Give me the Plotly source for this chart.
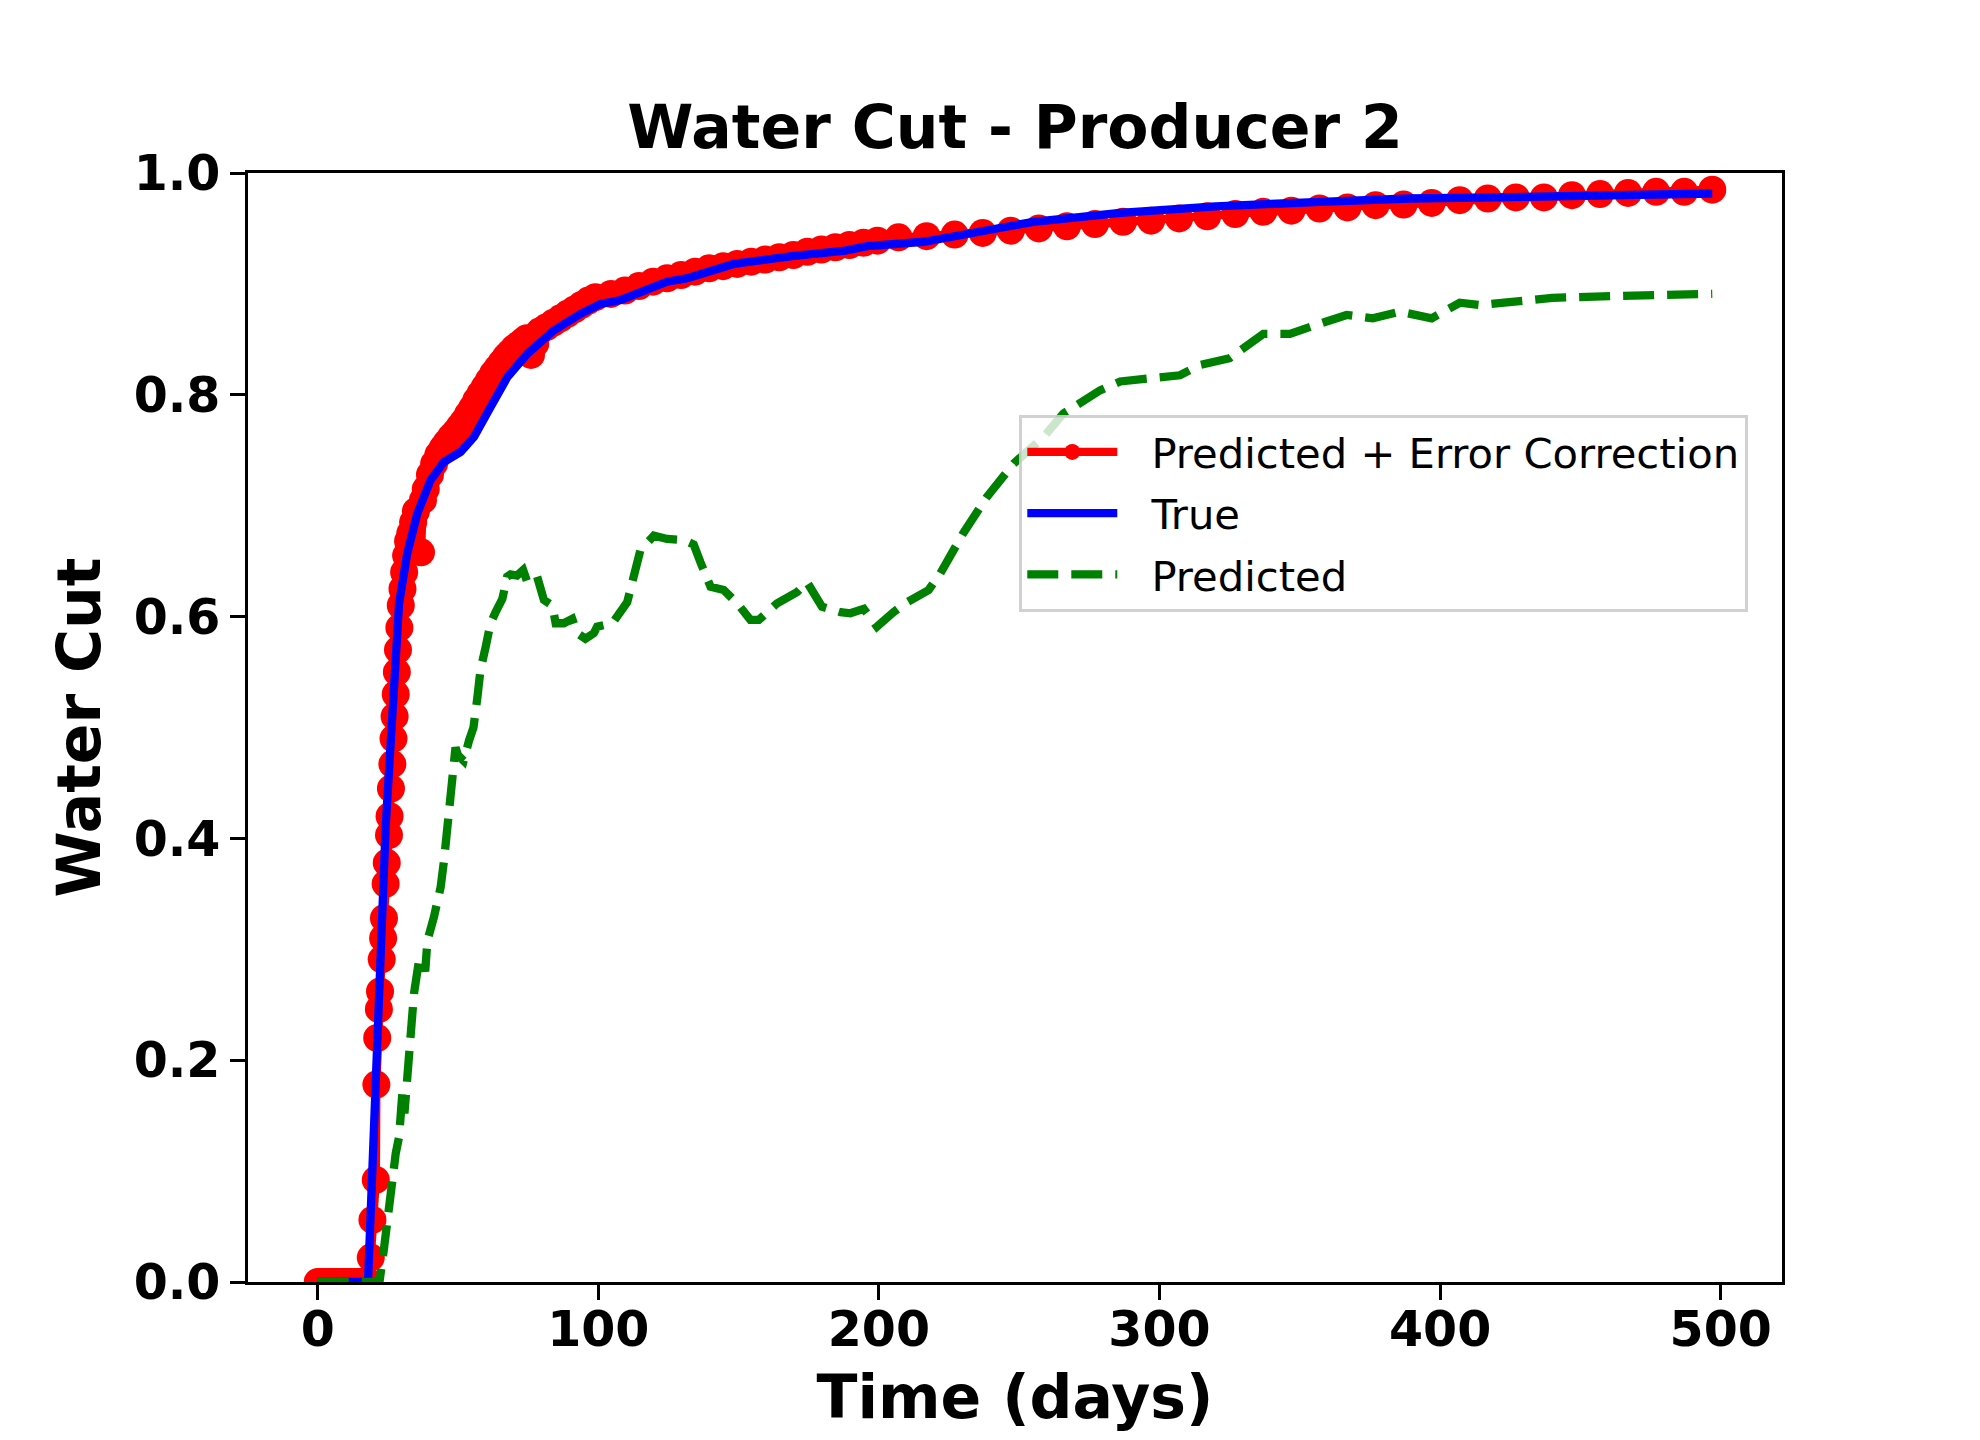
import plotly.graph_objects as go

# ---------------- data ----------------
t_corr = [0, 1, 2, 3, 4, 5, 6, 7, 8, 9, 10, 11, 12, 13, 14, 15, 16, 17, 18,
          18.9, 19.5, 20.7, 20.9, 21.2, 21.8, 22.2, 22.8, 23.3, 23.6, 24.2, 24.6, 25.4, 25.6, 26.1, 26.6,
          27.0, 27.4, 27.8, 28.2, 28.6, 29.1, 29.6, 30.2, 30.8, 31.5, 32.2, 33.0, 34.0, 35.0, 36.8, 37.5, 38.5,
          40, 41.5, 43, 44.5, 46, 47.5, 49, 50.5, 52, 53.5, 55, 56.5, 58, 59.5, 61, 62.5, 64, 65.5, 67, 68.5,
          70, 71.5, 73, 74.5, 76, 77.5, 79,
          81.5, 84, 86.5, 89, 91.5, 94, 96.5, 99,
          104.5, 109.5, 114.5, 119.5, 124.5, 129.5, 134.5, 139.5, 144.5, 149.5, 154.5, 159.5, 164.5, 169.5,
          174.5, 179.5, 184.5, 189.5, 194.5, 199.5,
          207, 217, 227, 237, 247, 257, 267, 277, 287, 297, 307, 317, 327, 337, 347, 357, 367, 377, 387, 397,
          407, 417, 427, 437, 447, 457, 467, 477, 487, 497]
wc_corr = [0, 0, 0, 0, 0, 0, 0, 0, 0, 0, 0, 0, 0, 0, 0, 0, 0, 0, 0,
           0.022, 0.056, 0.092, 0.178, 0.220, 0.246, 0.262, 0.291, 0.310, 0.328, 0.359, 0.378, 0.403, 0.420, 0.445, 0.467,
           0.49, 0.51, 0.53, 0.55, 0.57, 0.59, 0.61, 0.625, 0.64, 0.655, 0.668, 0.675, 0.685, 0.695, 0.658, 0.705, 0.715,
           0.728, 0.738, 0.746, 0.752, 0.757, 0.762, 0.766, 0.771, 0.776, 0.782, 0.788, 0.795, 0.801, 0.807, 0.813, 0.819, 0.824, 0.829, 0.834, 0.838,
           0.842, 0.845, 0.848, 0.851, 0.836, 0.846, 0.857,
           0.861, 0.865, 0.869, 0.873, 0.877, 0.881, 0.885, 0.888,
           0.891, 0.894, 0.898, 0.902, 0.905, 0.908, 0.911, 0.914, 0.916, 0.918, 0.920, 0.922, 0.924, 0.926,
           0.929, 0.931, 0.933, 0.935, 0.937, 0.939,
           0.942, 0.943, 0.9445, 0.946, 0.948, 0.950, 0.952, 0.954, 0.956, 0.957, 0.959, 0.961, 0.963, 0.965, 0.966, 0.968, 0.969, 0.971, 0.9715, 0.973,
           0.9755, 0.977, 0.978, 0.978, 0.980, 0.981, 0.982, 0.983, 0.983, 0.985]

t_true = [0, 17.9, 18.3, 19.2, 20.3, 22.2, 24.2, 25.4, 27.2, 29.0, 31.9, 35.5, 40.2, 45.0, 50.9, 55.7, 61.6,
          67.6, 74.7, 84.1, 93.7, 100.8, 108.0, 115.0, 124.5, 131.4, 148.3, 169.0, 188.0, 195.8, 216.0,
          231.4, 255.0, 286.0, 320.0, 357.5, 389.0, 420.0, 450.0, 497.0]
wc_true = [0, 0, 0.025, 0.092, 0.17, 0.29, 0.41, 0.461, 0.552, 0.612, 0.657, 0.693, 0.723, 0.7395, 0.7485, 0.762, 0.789,
           0.816, 0.837, 0.858, 0.873, 0.882, 0.8855, 0.8925, 0.902, 0.905, 0.918, 0.925, 0.930, 0.934, 0.938,
           0.945, 0.956, 0.964, 0.970, 0.974, 0.977, 0.978, 0.979, 0.9815]

t_pred = [0, 22.0, 23.6, 24.8, 26.0, 27.8, 29.0, 30.2, 30.9, 31.8, 33.1, 34.3, 36.1, 37.5, 38.3, 39.1, 41.4, 42.6,
          43.8, 45.0, 46.2, 48.0, 49.1, 50.0, 52.0, 53.9, 55.5, 56.9, 58.0, 59.8, 61.6, 63.4, 65.8, 67.5, 68.7,
          71.0, 73.2, 74.7, 78.2, 80.6, 83.6, 84.8, 87.7, 90.7, 92.5, 95.4, 98.4, 99.6, 105.0, 110.3, 112.7,
          115.0, 119.8, 124.5, 130.5, 134.0, 136.4, 138.8, 140.0, 144.7, 149.5, 154.2, 157.2, 163.7, 170.8,
          174.4, 179.7, 186.3, 189.8, 194.6, 199.3, 205.2, 209.4, 217.7, 221.9, 230.0, 238.5, 248.0, 258.7,
          265.7, 270.5, 278.8, 286.0, 296.6, 307.3, 314.5, 325.0, 337.0, 346.5, 357.0, 366.7, 376.0, 385.7,
          397.0, 407.0, 414.0, 429.6, 440.0, 461.6, 497.0]
wc_pred = [0, 0.0, 0.03, 0.056, 0.08, 0.116, 0.131, 0.172, 0.152, 0.18, 0.215, 0.26, 0.29, 0.292, 0.28, 0.308, 0.329, 0.341,
           0.356, 0.38, 0.41, 0.452, 0.482, 0.475, 0.47, 0.488, 0.50, 0.527, 0.552, 0.572, 0.594, 0.604, 0.616, 0.636, 0.638,
           0.637, 0.642, 0.631, 0.636, 0.615, 0.61, 0.594, 0.594, 0.598, 0.585, 0.58, 0.585, 0.591, 0.594, 0.613, 0.636,
           0.66, 0.673, 0.670, 0.669, 0.665, 0.649, 0.633, 0.627, 0.624, 0.612, 0.597, 0.597, 0.612, 0.622,
           0.631, 0.609, 0.604, 0.603, 0.607, 0.591, 0.604, 0.612, 0.624, 0.639, 0.675, 0.708, 0.738, 0.762,
           0.783, 0.790, 0.804, 0.812, 0.814, 0.8176, 0.827, 0.833, 0.855, 0.855, 0.864, 0.872, 0.869, 0.875,
           0.869, 0.883, 0.881, 0.885, 0.8874, 0.889, 0.891]

x_ticks = [0, 100, 200, 300, 400, 500]
y_ticks = [0.0, 0.2, 0.4, 0.6, 0.8, 1.0]
x_range = [-24.85, 521.85]
y_range = [0.0, 1.0]

# ---------------- figure ----------------
# the page body has an 8px margin, so the figure is sized/offset to compensate
W, H = 1972, 1432
LW = 8.3
PAD = "\u2002\u2009"   # small gap between legend handle and label
fig = go.Figure()
fig.add_trace(go.Scatter(x=t_corr, y=wc_corr, mode="lines+markers",
                         name=PAD + "Predicted + Error Correction", legendgroup="a",
                         line=dict(color="#ff0000", width=LW),
                         marker=dict(size=28, color="#ff0000")))
fig.add_trace(go.Scatter(x=t_true, y=wc_true, mode="lines", name=PAD + "True", legendgroup="b",
                         line=dict(color="#0000ff", width=LW)))
fig.add_trace(go.Scatter(x=t_pred, y=wc_pred, mode="lines", name=PAD + "Predicted", legendgroup="c",
                         line=dict(color="#008000", width=LW, dash="31px,13px")))

bold = dict(family="DejaVu Sans", size=49, color="black", weight="bold")
axis_common = dict(showgrid=False, zeroline=False, showline=True, linecolor="black",
                   linewidth=3.3, mirror=True, ticks="outside", ticklen=14.6, tickwidth=3.3,
                   tickcolor="black", tickfont=bold)

fig.update_layout(
    width=W, height=H,
    margin=dict(l=240, r=198, t=165, b=158, autoexpand=False),
    paper_bgcolor="white", plot_bgcolor="white",
    title=dict(text="Water Cut - Producer 2", x=0.5, xref="paper", xanchor="center",
               y=1 - 140 / H, yref="container", yanchor="bottom",
               font=dict(family="DejaVu Sans", size=60, color="black", weight="bold")),
    xaxis=dict(range=x_range, tickvals=x_ticks, ticktext=[str(v) for v in x_ticks],
               ticklabelstandoff=-13,
               title=dict(text="Time (days)", standoff=20,
                          font=dict(family="DejaVu Sans", size=60, color="black", weight="bold")),
               **axis_common),
    yaxis=dict(range=y_range, tickvals=y_ticks, ticktext=["%.1f" % v for v in y_ticks],
               title=dict(text="Water Cut", standoff=14,
                          font=dict(family="DejaVu Sans", size=60, color="black", weight="bold")),
               **axis_common),
    legend=dict(x=0.5026, y=0.7818, xanchor="left", yanchor="top",
                bgcolor="rgba(255,255,255,0.8)", bordercolor="rgba(204,204,204,0.9)", borderwidth=3.3,
                font=dict(family="DejaVu Sans", size=41.7, color="black"),
                itemwidth=90, tracegroupgap=4),
    showlegend=True,
)

fig.write_html("out.html")
